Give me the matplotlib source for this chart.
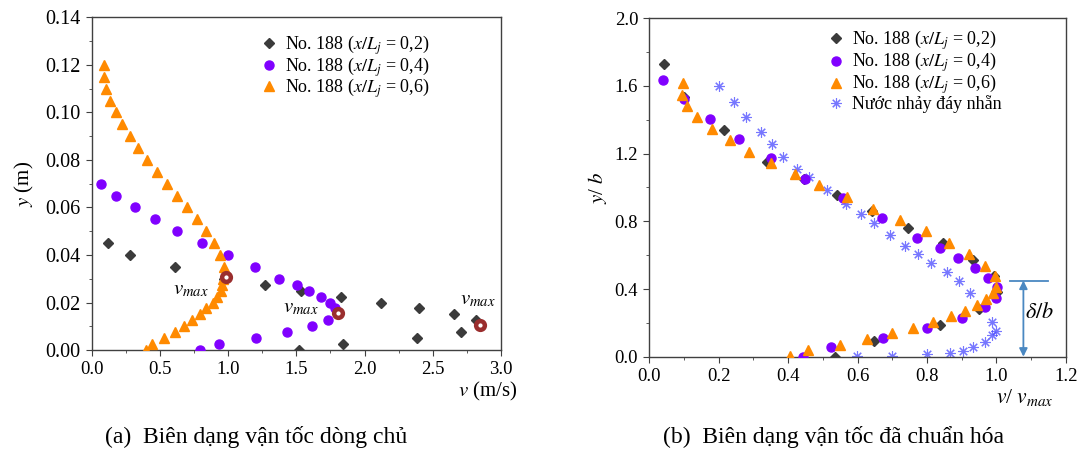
import numpy as np
import matplotlib.pyplot as plt
from matplotlib.ticker import MultipleLocator

plt.rcParams['font.family'] = ['Liberation Serif', 'DejaVu Serif']
plt.rcParams['mathtext.fontset'] = 'stix'

# ---- panel (a): velocity v (m/s) vs y (m)
a_v02 = [0.12, 0.283, 0.613, 0.97, 1.27, 1.534, 1.825, 2.121, 2.402, 2.656, 2.817, 2.707, 2.382, 1.845, 1.52]
a_y02 = [0.045, 0.040, 0.035, 0.030, 0.0275, 0.025, 0.0225, 0.020, 0.0175, 0.015, 0.0125, 0.0075, 0.005, 0.0025, 0.0]
a_v04 = [0.066, 0.181, 0.315, 0.464, 0.625, 0.806, 0.997, 1.200, 1.375, 1.503, 1.593, 1.678, 1.747, 1.78,
         1.73, 1.613, 1.432, 1.204, 0.936, 0.794]
a_y04 = [0.070, 0.065, 0.060, 0.055, 0.050, 0.045, 0.040, 0.035, 0.030, 0.0275, 0.025, 0.0225, 0.020, 0.0175,
         0.0125, 0.010, 0.0075, 0.005, 0.0025, 0.0]
a_v06 = [0.093, 0.093, 0.107, 0.137, 0.176, 0.222, 0.281, 0.342, 0.408, 0.479, 0.552, 0.625, 0.699, 0.770,
         0.836, 0.894, 0.941, 0.968, 0.962, 0.955, 0.946, 0.919, 0.887, 0.840, 0.794, 0.738, 0.677, 0.608,
         0.533, 0.442, 0.396]
a_y06 = [0.120, 0.115, 0.110, 0.105, 0.100, 0.095, 0.090, 0.085, 0.080, 0.075, 0.070, 0.065, 0.060, 0.055,
         0.050, 0.045, 0.040, 0.035, 0.030, 0.0275, 0.025, 0.0225, 0.020, 0.0175, 0.015, 0.0125, 0.010, 0.0075,
         0.005, 0.0025, 0.0]
vmax_v = [0.985, 1.808, 2.846]
vmax_y = [0.0306, 0.0157, 0.0105]
vmax_lbl_x = [0.73, 1.53, 2.83]
vmax_lbl_y = [0.0253, 0.0177, 0.0210]

# ---- panel (b): normalised v/vmax vs y/b
b_v02 = [0.043, 0.101, 0.216, 0.338, 0.446, 0.540, 0.642, 0.746, 0.845, 0.934, 0.992, 1.003, 0.950, 0.838, 0.648, 0.534]
b_y02 = [1.728, 1.537, 1.340, 1.149, 1.050, 0.956, 0.861, 0.763, 0.672, 0.573, 0.479, 0.380, 0.280, 0.189, 0.093, 0.0]
b_v04 = [0.038, 0.101, 0.176, 0.259, 0.351, 0.450, 0.557, 0.671, 0.770, 0.839, 0.890, 0.938, 0.977, 1.001,
         0.999, 0.968, 0.902, 0.801, 0.672, 0.523, 0.442]
b_y04 = [1.637, 1.521, 1.405, 1.289, 1.172, 1.050, 0.937, 0.818, 0.700, 0.640, 0.586, 0.526, 0.467, 0.410,
         0.349, 0.292, 0.231, 0.171, 0.112, 0.055, 0.0]
b_v06 = [0.096, 0.095, 0.109, 0.138, 0.181, 0.232, 0.288, 0.351, 0.419, 0.490, 0.569, 0.646, 0.721, 0.796,
         0.865, 0.922, 0.968, 0.997, 1.0, 0.991, 0.970, 0.943, 0.911, 0.868, 0.818, 0.761, 0.698, 0.626,
         0.549, 0.456, 0.405]
b_y06 = [1.616, 1.547, 1.481, 1.414, 1.348, 1.279, 1.212, 1.145, 1.078, 1.013, 0.944, 0.875, 0.810, 0.743,
         0.674, 0.605, 0.538, 0.475, 0.410, 0.378, 0.343, 0.303, 0.272, 0.240, 0.205, 0.171, 0.140, 0.104,
         0.071, 0.037, 0.004]
b_vs = [0.200, 0.243, 0.278, 0.321, 0.353, 0.385, 0.425, 0.459, 0.511, 0.566, 0.611, 0.648, 0.694, 0.738,
        0.773, 0.813, 0.857, 0.891, 0.923, 0.988, 1.0, 0.988, 0.968, 0.932, 0.903, 0.866, 0.799, 0.698, 0.599]
b_ys = [1.598, 1.507, 1.414, 1.330, 1.255, 1.182, 1.109, 1.062, 0.985, 0.902, 0.845, 0.788, 0.717, 0.656,
        0.609, 0.554, 0.502, 0.449, 0.374, 0.207, 0.150, 0.128, 0.087, 0.055, 0.034, 0.024, 0.014, 0.004, 0.004]
delta_top = 0.45

labels = [r'No. 188 ($x/L_j$ = 0,2)', r'No. 188 ($x/L_j$ = 0,4)', r'No. 188 ($x/L_j$ = 0,6)']
c_blk = '#3b3b3b'
c_pur = '#8000ff'
c_org = '#ff8a00'
c_ast = '#4a4aff'
c_red = '#9a2e2e'
c_dlt = '#4a88c2'

fig = plt.figure(figsize=(10.79, 4.57), dpi=100)
ax1 = fig.add_axes([0.085, 0.234, 0.3793, 0.728])
ax2 = fig.add_axes([0.6018, 0.2195, 0.3859, 0.7405])

def style(ax):
    for s in ax.spines.values():
        s.set_color('#404040')
        s.set_linewidth(1.0)
    ax.tick_params(which='both', direction='out', top=False, right=False, labelsize=13.5, color='#404040')
    ax.tick_params(which='major', length=4.5)
    ax.tick_params(which='minor', length=2.5)

# panel (a)
ax1.plot(a_v02, a_y02, 'D', color=c_blk, ms=5.5, ls='none', label=labels[0], zorder=3)
ax1.plot(a_v04, a_y04, 'o', color=c_pur, ms=6.5, ls='none', label=labels[1], zorder=3)
ax1.plot(a_v06, a_y06, '^', color=c_org, ms=7, ls='none', label=labels[2], zorder=3)
ax1.plot(vmax_v, vmax_y, 'o', ms=6.3, mfc='white', mec=c_red, mew=3.2, ls='none', zorder=5)
for x, y in zip(vmax_lbl_x, vmax_lbl_y):
    ax1.text(x, y, r'$v_{max}$', fontsize=15, ha='center', va='center')
ax1.set_xlim(0, 3.0)
ax1.set_ylim(0, 0.14)
ax1.xaxis.set_major_locator(MultipleLocator(0.5))
ax1.xaxis.set_minor_locator(MultipleLocator(0.25))
ax1.yaxis.set_major_locator(MultipleLocator(0.02))
ax1.yaxis.set_minor_locator(MultipleLocator(0.01))
ax1.xaxis.set_major_formatter(plt.FormatStrFormatter('%.1f'))
ax1.yaxis.set_major_formatter(plt.FormatStrFormatter('%.2f'))
style(ax1)
ax1.tick_params(axis='y', labelsize=14.5)
ax1.set_ylabel(r'$y$ (m)', fontsize=15, labelpad=7)
fig.text(518 / 1079, 1 - 391 / 457, r'$v$ (m/s)', fontsize=15, ha='right', va='center')
ax1.legend(loc='upper left', bbox_to_anchor=(0.3885, 0.973), frameon=False, fontsize=13,
           handletextpad=0.3, labelspacing=-0.12, borderaxespad=0, handlelength=1.2)

# panel (b)
ax2.plot(b_v02, b_y02, 'D', color=c_blk, ms=5.5, ls='none', label=labels[0], zorder=3)
ax2.plot(b_v04, b_y04, 'o', color=c_pur, ms=6.5, ls='none', label=labels[1], zorder=3)
ax2.plot(b_v06, b_y06, '^', color=c_org, ms=7, ls='none', label=labels[2], zorder=3)
ax2.plot(b_vs, b_ys, ls='none', marker=(8, 2, 0), color=c_ast, ms=7.5, mew=0.8, alpha=0.75,
         label='Nước nhảy đáy nhẵn', zorder=2)
ax2.plot([1.04, 1.15], [delta_top, delta_top], color=c_dlt, lw=1.3)
ax2.annotate('', xy=(1.078, 0), xytext=(1.078, delta_top),
             arrowprops=dict(arrowstyle='<|-|>', color=c_dlt, lw=1.3, mutation_scale=12,
                             shrinkA=0, shrinkB=0))
ax2.text(1.125, 0.26, r'$\delta/b$', fontsize=16, ha='center', va='center')
ax2.set_xlim(0, 1.2)
ax2.set_ylim(0, 2.0)
ax2.xaxis.set_major_locator(MultipleLocator(0.2))
ax2.xaxis.set_minor_locator(MultipleLocator(0.1))
ax2.yaxis.set_major_locator(MultipleLocator(0.4))
ax2.yaxis.set_minor_locator(MultipleLocator(0.2))
ax2.xaxis.set_major_formatter(plt.FormatStrFormatter('%.1f'))
ax2.yaxis.set_major_formatter(plt.FormatStrFormatter('%.1f'))
style(ax2)
ax2.set_ylabel(r'$y$/ $b$', fontsize=15, labelpad=4)
fig.text(1025 / 1079, 1 - 398 / 457, r'$v$/ $v_{max}$', fontsize=15.5, ha='center', va='center')
ax2.legend(loc='upper left', bbox_to_anchor=(0.405, 0.991), frameon=False, fontsize=13,
           handletextpad=0.3, labelspacing=-0.08, borderaxespad=0, handlelength=1.2)

fig.text(0.097, 1 - 437 / 457, '(a)  Biên dạng vận tốc dòng chủ', fontsize=17, ha='left', va='center')
fig.text(0.614, 1 - 437 / 457, '(b)  Biên dạng vận tốc đã chuẩn hóa', fontsize=17, ha='left', va='center')

fig.savefig('out.png', dpi=100)
